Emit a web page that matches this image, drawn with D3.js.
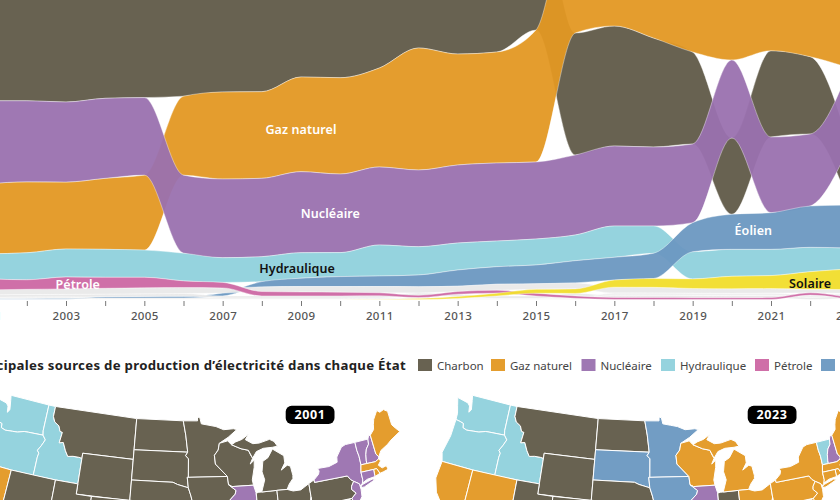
<!DOCTYPE html>
<html lang="fr"><head><meta charset="utf-8">
<script src="https://cdn.jsdelivr.net/npm/d3@7"></script>
<style>html,body{margin:0;padding:0;background:#fff;overflow:hidden}svg{display:block}
text{font-family:"Noto Sans",sans-serif}</style></head><body><svg id="c" width="840" height="500"></svg>
<script>
const years = d3.range(2001, 2024);
// Production par source, TWh
const coal    = [1904,1933,1974,1978,2013,1991,2016,1986,1756,1847,1733,1514,1581,1582,1352,1220,1200,1090,920,763,863,773,590];
const gas     = [700,710,670,710,750,790,870,866,947,963,990,1220,1110,1110,1320,1380,1300,1460,1580,1610,1590,1690,1800];
const nuclear = [830,810,800,800,775,780,787,784,810,786,780,767,780,780,770,800,800,790,787,780,757,720,780];
const hydro   = [250,270,280,280,272,277,247,249,255,240,310,283,270,257,260,257,313,273,272,270,263,244,210];
const oil     = [110,95,119,110,105,66,55,44,39,37,30,23,27,30,28,24,21,20,18,17,19,23,16];
const wind    = [7,10,11,14,17,18,30,53,84,100,105,117,162,175,188,222,227,252,290,350,366,413,430];
const solar   = [1,1,1,1,1,1,1,1,1,1,2,9,18,28,39,45,72,88,96,125,130,176,205];
const biomass = [50,52,55,58,60,60,52,46,54,56,63,62,53,60,55,60,58,58,48,46,46,35,40];
const geo     = [26,26,26,26,26,28,20,22,22,22,22,24,24,24,24,25,22,22,22,22,22,22,22];
const others  = [13,13,13,13,13,13,13,13,13,13,13,10,11,11,11,12,22,22,22,22,22,22,22];

const seriesNames  = ["Charbon","Gaz naturel","Nucléaire","Hydraulique","Éolien","Géothermie","Biomasse","Autres","Pétrole","Solaire"];
const seriesValues = [coal,gas,nuclear,hydro,wind,geo,biomass,others,oil,solar];
const seriesFill   = ["#605a48","#e39823","#9a71af","#8fd1dc","#6b98c1","#e9e9e9","#e9e9e9","#efefef","#cc67a3","#f1dd2b"];
const tickYears = years;

const legendNames  = ["Charbon","Gaz naturel","Nucléaire","Hydraulique","Pétrole","Éolien"];
const legendColors = ["#686251","#e49d2e","#9f78b3","#95d3de","#cf6fa8","#729dc4"];

const labelNames = ["Gaz naturel","Nucléaire","Hydraulique","Pétrole","Éolien","Solaire"];
const labelYears = [2009,2009.75,2008.9,2003.3,2020.55,2022];
const labelLevels= [1705,865,315,155,690,165];
const labelFills = ["#fff","#fff","#111","#fff","#fff","#111"];

// Contours simplifiés des États [lon, lat]
const stateNames = ["WA","OR","ID","MT","WY","ND","SD","NE","KS","MN","IA","MO","WI","IL","IN","MI","MIU","OH","PA","NY","LI","VT","NH","ME","MA","RI","CT","NJ","CA","NV","UT","CO","WV","MD","DE"];
const stateShapes = [
 [[-124.73,48.38],[-124.4,47.6],[-124.1,46.9],[-124.05,46.27],[-123.4,46.2],[-122.9,46.1],[-122.8,45.7],[-122.2,45.57],[-121.2,45.65],[-120.5,45.7],[-119.6,45.92],[-119,45.95],[-116.92,46],[-117.04,46.42],[-117.04,49],[-122.76,49],[-122.6,48.5],[-122.35,47.6],[-122.6,47.3],[-122.75,47.9],[-123.1,48.15]],
 [[-124.05,46.27],[-124.1,44.6],[-124.55,42.84],[-124.2,42],[-120,42],[-117.03,42],[-117.03,43.8],[-116.95,44.2],[-117.22,44.45],[-116.85,44.95],[-116.47,45.6],[-116.92,46],[-119,45.95],[-119.6,45.92],[-120.5,45.7],[-121.2,45.65],[-122.2,45.57],[-122.8,45.7],[-122.9,46.1],[-123.4,46.2]],
 [[-117.04,49],[-116.05,49],[-116.05,48],[-115.7,47.5],[-115,47.2],[-114.7,46.7],[-114.35,46.65],[-114.5,45.6],[-113.95,45.7],[-113.45,44.95],[-113,44.45],[-112.3,44.55],[-111.5,44.55],[-111.05,44.5],[-111.05,42],[-114.04,42],[-117.03,42],[-117.03,43.8],[-116.95,44.2],[-117.22,44.45],[-116.85,44.95],[-116.47,45.6],[-116.92,46],[-117.04,46.42]],
 [[-116.05,49],[-104.05,49],[-104.05,45],[-111.05,45],[-111.05,44.5],[-111.5,44.55],[-112.3,44.55],[-113,44.45],[-113.45,44.95],[-113.95,45.7],[-114.5,45.6],[-114.35,46.65],[-114.7,46.7],[-115,47.2],[-115.7,47.5],[-116.05,48]],
 [[-111.05,45],[-104.05,45],[-104.05,41],[-111.05,41]],
 [[-104.05,49],[-97.23,49],[-96.85,47.6],[-96.56,45.94],[-104.05,45.94]],
 [[-104.05,45.94],[-96.56,45.94],[-96.85,45.6],[-96.45,45.3],[-96.45,43.5],[-96.6,43.5],[-96.45,42.49],[-97.9,42.8],[-98.5,43],[-104.05,43]],
 [[-104.05,43],[-98.5,43],[-97.9,42.8],[-96.45,42.49],[-96.1,41.7],[-95.9,41.1],[-95.3,40],[-102.05,40],[-102.05,41],[-104.05,41]],
 [[-102.05,40],[-95.3,40],[-94.9,39.8],[-94.6,39.1],[-94.6,37],[-102.05,37]],
 [[-97.23,49],[-95.15,49],[-95.15,49.38],[-94.8,49.3],[-94.6,48.7],[-93.5,48.55],[-92.5,48.4],[-91.4,48.06],[-90,48.1],[-89.5,48],[-90.8,47.3],[-92.1,46.75],[-92.3,46.1],[-92.85,45.6],[-92.75,44.75],[-91.2,43.5],[-96.45,43.5],[-96.45,45.3],[-96.85,45.6],[-96.56,45.94],[-96.85,47.6]],
 [[-96.6,43.5],[-91.2,43.5],[-91.1,42.7],[-90.15,42.1],[-90.3,41.75],[-91.05,41.2],[-91.1,40.7],[-91.4,40.4],[-91.7,40.6],[-95.75,40.58],[-95.9,41.1],[-96.1,41.7],[-96.45,42.49]],
 [[-95.75,40.58],[-91.7,40.6],[-91.4,40.4],[-91.5,40],[-90.7,39],[-90.2,38.75],[-90.2,38.4],[-89.5,37.3],[-89.15,37],[-89.7,36.5],[-94.6,36.5],[-94.6,39.1],[-94.9,39.8],[-95.3,40]],
 [[-92.1,46.75],[-90.9,46.95],[-90.4,46.55],[-89.1,46.1],[-88.1,45.9],[-87.8,45.35],[-87.6,45.1],[-88,44.55],[-87.4,44.9],[-87.5,44.2],[-87.9,43],[-87.8,42.49],[-90.65,42.5],[-91.1,42.7],[-91.2,43.5],[-92.75,44.75],[-92.85,45.6],[-92.3,46.1]],
 [[-90.65,42.5],[-87.8,42.49],[-87.55,41.75],[-87.53,39.35],[-87.6,38.7],[-88.05,37.8],[-88.5,37.1],[-89.15,37],[-89.5,37.3],[-90.2,38.4],[-90.2,38.75],[-90.7,39],[-91.5,40],[-91.4,40.4],[-91.1,40.7],[-91.05,41.2],[-90.3,41.75],[-90.15,42.1],[-91.1,42.7]],
 [[-87.53,41.7],[-87.2,41.76],[-84.8,41.76],[-84.82,39.1],[-85.4,38.7],[-86,38],[-87.1,37.85],[-88.05,37.8],[-87.6,38.7],[-87.53,39.35]],
 [[-86.8,41.76],[-84.8,41.76],[-83.45,41.73],[-83.1,42.2],[-82.5,42.7],[-82.45,43],[-82.6,43.9],[-83,44.05],[-83.9,43.65],[-83.3,44.3],[-83.3,45],[-84.75,45.78],[-85.5,45],[-86.25,44.7],[-86.5,43.7],[-86.25,42.9]],
 [[-90.4,46.55],[-89.1,46.1],[-88.1,45.9],[-87.6,45.1],[-87,45.7],[-86,45.95],[-84.7,45.95],[-84,46],[-84.4,46.5],[-85,46.75],[-86.5,46.5],[-87.4,46.5],[-88.4,46.95],[-87.9,47.45],[-88.9,47],[-89.8,46.8]],
 [[-84.8,41.76],[-83.45,41.73],[-82.7,41.5],[-81.7,41.5],[-80.52,41.98],[-80.52,40.64],[-80.7,40.2],[-80.85,39.7],[-81.7,39],[-82.2,38.6],[-82.6,38.42],[-83.7,38.65],[-84.82,39.1]],
 [[-80.52,41.98],[-79.76,42.25],[-79.76,42],[-75.35,42],[-75.05,41.6],[-74.7,41.36],[-75.1,40.95],[-75.2,40.65],[-74.73,40.2],[-75.4,39.8],[-80.52,39.72],[-80.52,40.64]],
 [[-79.76,42.25],[-79.05,42.7],[-78.9,43],[-79.05,43.27],[-77.5,43.25],[-76.3,43.5],[-76.2,44],[-75.3,44.85],[-74.7,45],[-73.35,45],[-73.35,44.2],[-73.25,43.6],[-73.27,42.75],[-73.5,42.05],[-73.5,41.3],[-73.65,41],[-73.95,40.75],[-74.05,41],[-74.7,41.36],[-75.05,41.6],[-75.35,42],[-79.76,42]],
 [[-74,40.6],[-73.75,40.85],[-72.3,41.15],[-71.9,41.05],[-73.5,40.6]],
 [[-73.35,45],[-71.5,45],[-71.6,44.5],[-72.05,44.1],[-72.3,43.6],[-72.45,43],[-72.46,42.73],[-73.27,42.75],[-73.25,43.6],[-73.35,44.2]],
 [[-71.5,45],[-71.3,45.3],[-71.05,45.3],[-70.98,43.4],[-70.7,43.07],[-70.82,42.87],[-71.3,42.7],[-72.46,42.73],[-72.45,43],[-72.3,43.6],[-72.05,44.1],[-71.6,44.5]],
 [[-71.05,45.3],[-70.4,45.75],[-70.25,46.2],[-70,46.7],[-69.25,47.45],[-68.9,47.2],[-68.3,47.35],[-67.8,47.07],[-67.8,45.7],[-67.45,45.3],[-67,44.85],[-68.5,44.3],[-69.1,44],[-70.2,43.6],[-70.7,43.07],[-70.98,43.4]],
 [[-73.5,42.05],[-73.27,42.75],[-72.46,42.73],[-71.3,42.7],[-70.82,42.87],[-70.6,42.65],[-71.05,42.3],[-70.65,41.95],[-70.05,42.05],[-69.95,41.67],[-70.65,41.55],[-71.12,41.5],[-71.38,42.02],[-71.8,42.02]],
 [[-71.8,42.02],[-71.38,42.02],[-71.12,41.5],[-71.85,41.32]],
 [[-73.5,42.05],[-71.8,42.02],[-71.85,41.32],[-72.9,41.25],[-73.65,41],[-73.5,41.3]],
 [[-74.7,41.36],[-74.05,41],[-74,40.45],[-74.1,39.75],[-74.9,38.95],[-75.5,39.5],[-75.4,39.8],[-74.73,40.2],[-75.2,40.65],[-75.1,40.95]],
 [[-124.2,42],[-120,42],[-120,39],[-114.63,35],[-114.7,32.7],[-117.1,32.5],[-118.4,33.75],[-120.6,34.55],[-121.9,36.6],[-122.5,37.8],[-123.75,39],[-124.35,40.3]],
 [[-120,42],[-114.04,42],[-114.04,36.2],[-114.63,36],[-114.63,35],[-120,39]],
 [[-114.04,42],[-111.05,42],[-111.05,41],[-109.05,41],[-109.05,37],[-114.04,37]],
 [[-109.05,41],[-102.05,41],[-102.05,37],[-109.05,37]],
 [[-80.52,40.64],[-80.52,39.72],[-79.48,39.72],[-79.48,39.2],[-78.4,39.6],[-77.75,39.3],[-78.4,39.15],[-80.3,38],[-81.9,37.5],[-82.6,38.42],[-82.2,38.6],[-81.7,39],[-80.85,39.7],[-80.7,40.2]],
 [[-79.48,39.72],[-75.79,39.72],[-75.7,38.46],[-75.05,38.45],[-76.3,38],[-76.5,39.2],[-77.2,38.4],[-77.75,39.3],[-78.4,39.6],[-79.48,39.2]],
 [[-75.79,39.72],[-75.4,39.8],[-75.05,38.45],[-75.7,38.46]]
];
const C="Charbon",G="Gaz naturel",N="Nucléaire",H="Hydraulique",W="Éolien";
const fuel2001 = [H,H,H,C,C,C,C,C,C,C,C,C,C,N,C,C,C,C,C,N,N,N,N,G,G,G,N,N,G,C,C,C,C,C,C];
const fuel2023 = [H,H,H,C,C,C,W,C,W,W,W,C,G,N,C,G,G,G,G,G,G,H,N,G,G,G,G,G,G,G,C,C,G,G,G];
const mapYears = ["2001","2023"];
const fuels = [fuel2001,fuel2023];

const svg = d3.select("#c");
const x = d3.scaleLinear().domain([2003,2021]).range([66,771]);
const y = d3.scaleLinear().domain([0,5000]).range([299.5,-200.5]);

// empilement trié par valeur à chaque année
const bands = seriesValues.map(()=>[]);
years.forEach((yr,i)=>{
  const order = d3.range(seriesValues.length).sort((a,b)=>seriesValues[a][i]-seriesValues[b][i]);
  let acc=0;
  order.forEach(k=>{ const v=seriesValues[k][i]; bands[k].push({yr,y0:acc,y1:acc+v}); acc+=v; });
});
const area = d3.area().x(d=>x(d.yr)).y0(d=>y(d.y0)).y1(d=>y(d.y1)).curve(d3.curveMonotoneX);
svg.append("g").selectAll("path").data(bands).join("path")
  .attr("d",area).attr("fill",(d,i)=>seriesFill[i]).attr("fill-opacity",.95)
  .attr("stroke","#fff").attr("stroke-opacity",.55).attr("stroke-width",.7);

svg.append("g").selectAll("text").data(labelNames).join("text")
  .attr("x",(d,i)=>x(labelYears[i])).attr("y",(d,i)=>y(labelLevels[i])+4.5)
  .attr("text-anchor","middle").attr("font-size",12.5).attr("font-weight",600).attr("letter-spacing",.1)
  .attr("fill",(d,i)=>labelFills[i]).text(d=>d);

// axe
const ax = svg.append("g").attr("transform","translate(0,301)")
  .call(d3.axisBottom(x).tickValues(tickYears).tickSize(5).tickPadding(6).tickFormat(d=>d%2?d:""));
ax.select(".domain").remove();
ax.selectAll("line").attr("stroke","#777");
ax.selectAll("text").attr("font-size",11.5).attr("font-family","Lato").attr("font-weight",500).attr("fill","#555").attr("letter-spacing",.4);

// titre + légende
svg.append("text").attr("x",406).attr("y",370).attr("text-anchor","end")
  .attr("font-size",13.2).attr("font-weight",700).attr("fill","#222").attr("letter-spacing",.3)
  .text("Principales sources de production d’électricité dans chaque État");
const lx = d3.scaleOrdinal().domain(legendNames).range([418,491,581.5,661,755,821]);
const lg = svg.append("g").selectAll("g").data(legendNames).join("g").attr("transform",d=>`translate(${lx(d)},359)`);
lg.append("rect").attr("width",14).attr("height",12).attr("fill",(d,i)=>legendColors[i]);
lg.append("text").attr("x",19).attr("y",10.5).attr("font-size",11.5).attr("fill","#444").attr("letter-spacing",0).text(d=>d);

// cartes
const fuelColor = d3.scaleOrdinal().domain(legendNames).range(legendColors);
const features = stateNames.map((n,i)=>{
  let ring = stateShapes[i].concat([stateShapes[i][0]]);
  let f = {type:"Feature",properties:{n},geometry:{type:"Polygon",coordinates:[ring]}};
  if(d3.geoArea(f)>2*Math.PI) f.geometry.coordinates=[ring.slice().reverse()];
  return f;
});
const anchorLonLat=[-95.15,49.38];
const mapAnchors=[[197.5,417],[659,417]];
const badgeX=[285.7,747.7];
mapYears.forEach((yr,m)=>{
  const proj=d3.geoAlbers().scale(590).translate([0,0]);
  const p=proj(anchorLonLat);
  proj.translate([mapAnchors[m][0]-p[0],mapAnchors[m][1]-p[1]]);
  const path=d3.geoPath(proj);
  svg.append("g").selectAll("path").data(features).join("path")
    .attr("d",path).attr("fill",(d,i)=>fuelColor(fuels[m][i]))
    .attr("stroke","#fff").attr("stroke-width",1).attr("stroke-linejoin","round");
  const b=svg.append("g").attr("transform",`translate(${badgeX[m]},405.7)`);
  b.append("rect").attr("width",48.8).attr("height",18.3).attr("rx",6).attr("fill","#000");
  b.append("text").attr("x",24.4).attr("y",13.6).attr("text-anchor","middle")
    .attr("font-family","Inter").attr("font-weight",700).attr("font-size",12.5).attr("letter-spacing",.6).attr("fill","#fff").text(yr);
});
</script></body></html>
